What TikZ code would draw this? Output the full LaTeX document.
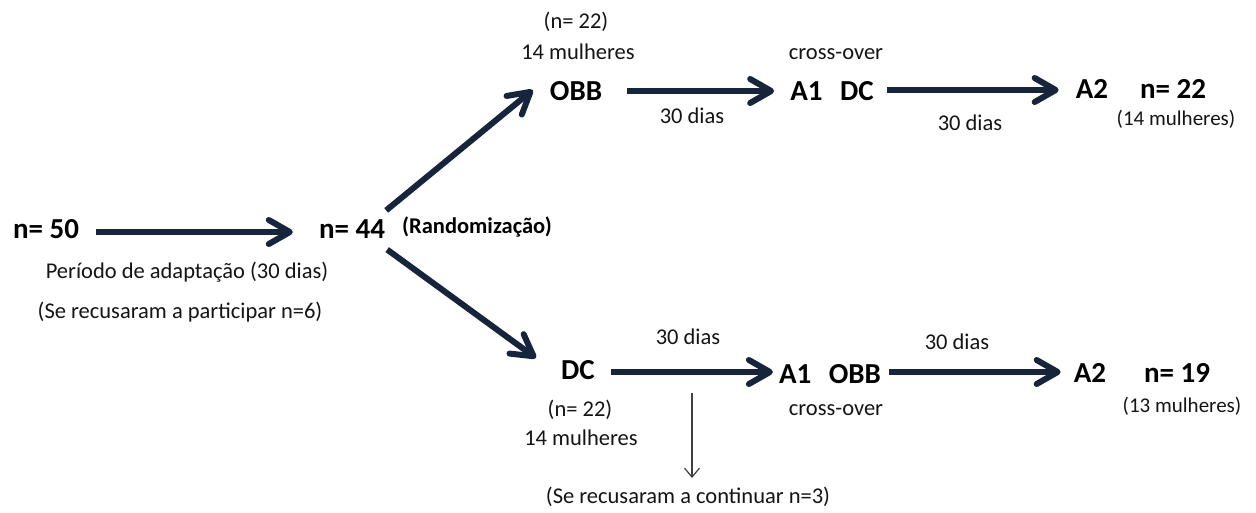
\documentclass[tikz,border=0pt]{standalone}
\usepackage{fontspec}
\setmainfont{Carlito}
\usetikzlibrary{arrows.meta}
\definecolor{navy}{RGB}{22,36,60}
\definecolor{ink}{RGB}{20,20,20}
\tikzset{
  big/.style={font=\bfseries\fontsize{29}{34}\selectfont, inner sep=0pt, text=black},
  rnd/.style={font=\bfseries\fontsize{22.5}{26}\selectfont, inner sep=0pt, text=black},
  txt/.style={font=\fontsize{22.5}{27}\selectfont, inner sep=0pt, text=ink},
  note/.style={font=\fontsize{21}{25}\selectfont, inner sep=0pt, text=ink},
  flow/.style={draw=navy, line width=6pt, -{Straight Barb[length=21pt,width=24pt,round]}},
  dropline/.style={draw=gray!50!black, line width=1.2pt, -{Straight Barb[length=9pt,width=15pt]}}
}
\begin{document}
\begin{tikzpicture}[x=1pt, y=-1pt]
  \useasboundingbox (0,0) rectangle (1256,512);

  % recruitment and randomisation
  \node[big] (n50) at (46,229) {n= 50};
  \node[big] (n44) at (352,229) {n= 44};
  \node[rnd] (rand) at (477,227) {(Randomização)};
  \node[txt] (adapt) at (187,272) {Período de adaptação (30 dias)};
  \node[txt] (recus) at (180,312) {(Se recusaram a participar n=6)};

  % upper branch
  \node[txt] (topn) at (576,22) {(n= 22)};
  \node[txt] (topw) at (578,52) {14 mulheres};
  \node[big] (obb) at (576,91) {OBB};
  \node[txt] (d1) at (692,116) {30 dias};
  \node[txt] (co1) at (836,54) {cross-over};
  \node[big] (a1dc) at (832,91) {A1\hspace{0.6em}DC};
  \node[txt] (d2) at (970,123) {30 dias};
  \node[big] (a2t) at (1092,89) {A2};
  \node[big] (n22) at (1173,89) {n= 22};
  \node[note] (w14) at (1176,119) {(14 mulheres)};

  % lower branch
  \node[txt] (d3) at (688,337) {30 dias};
  \node[big] (dc) at (578,370) {DC};
  \node[txt] (botn) at (580,410) {(n= 22)};
  \node[txt] (botw) at (581,438) {14 mulheres};
  \node[big] (a1obb) at (830,374) {A1\hspace{0.6em}OBB};
  \node[txt] (co2) at (836,410) {cross-over};
  \node[txt] (d4) at (957,342) {30 dias};
  \node[big] (a2b) at (1090,373) {A2};
  \node[big] (n19) at (1177,373) {n= 19};
  \node[note] (w13) at (1182,406) {(13 mulheres)};
  \node[txt] (cont) at (688,497) {(Se recusaram a continuar n=3)};

  % flow arrows
  \draw[flow] ([shift={(17,3)}]n50.east) -- ([shift={(-26,3)}]n44.west);
  \draw[flow] ([shift={(1,-9)}]n44.north east) -- ([shift={(-17,-1)}]obb.west);
  \draw[flow] ([shift={(2,11)}]n44.south east) -- ([shift={(-25,-12)}]dc.west);
  \draw[flow] ([shift={(25,0)}]obb.east) -- ([shift={(-16,0)}]a1dc.west);
  \draw[flow] ([shift={(13,-1)}]a1dc.east) -- ([shift={(-17,1)}]a2t.west);
  \draw[flow] ([shift={(16,2)}]dc.east) -- ([shift={(-6,-2)}]a1obb.west);
  \draw[flow] ([shift={(8,-2)}]a1obb.east) -- ([shift={(-13,-1)}]a2b.west);

  % withdrawal
  \coordinate (drop) at (692,393);
  \draw[dropline] (drop) -- (drop |- cont.north) [shorten >=9pt];
\end{tikzpicture}
\end{document}
